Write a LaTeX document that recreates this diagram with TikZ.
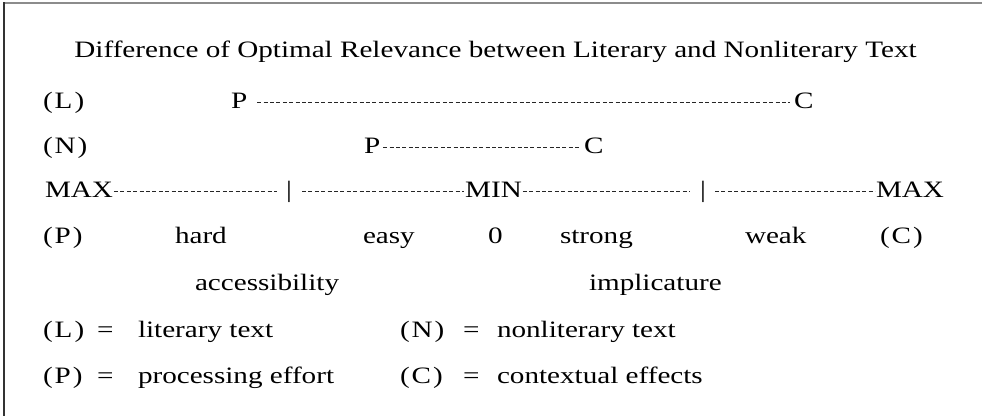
\documentclass[tikz,border=0pt]{standalone}
\usepackage{fontspec}
\setmainfont[FakeStretch=1.24]{Liberation Serif}
\begin{document}
\begin{tikzpicture}[x=1pt,y=1pt,
  txt/.style={anchor=base west,inner sep=0pt,outer sep=0pt,font=\fontsize{23.5}{27}\selectfont},
  dline/.style={line width=0.8pt,dash pattern=on 4pt off 2.4pt,black!85},
  lbl/.style={txt}]
\useasboundingbox (0,0) rectangle (982,416);
\fill[white] (0,0) rectangle (982,416);
% frame
\draw[line width=1.6pt,black!45] (3,413) -- (982,413);
\draw[line width=1.4pt,black!80] (3.8,413.5) -- (3.8,0);
% title
\node[txt,anchor=base] (title) at (495.5,358) {Difference of Optimal Relevance between Literary and Nonliterary Text};
% (L) row
\node[lbl] (Ll) at (43,308) {(\kern2pt L\kern2pt)};
\node[txt] (LP) at (231,308) {P};
\node[txt] (LC) at (794,308) {C};
\draw[dline] ([xshift=10pt,yshift=6pt]LP.base east) -- ([xshift=-4pt,yshift=6pt]LC.base west);
% (N) row
\node[lbl] (Nl) at (43,263) {(\kern2pt N\kern2pt)};
\node[txt] (NP) at (364,263) {P};
\node[txt] (NC) at (584,263) {C};
\draw[dline] ([xshift=3pt,yshift=6pt]NP.base east) -- ([xshift=-3pt,yshift=6pt]NC.base west);
% scale row
\node[txt] (max1) at (45,219) {MAX};
\node[txt,anchor=base] (bar1) at (289,219) {|};
\node[txt,anchor=base] (min) at (493.5,219) {MIN};
\node[txt,anchor=base] (bar2) at (703,219) {|};
\node[txt,anchor=base east] (max2) at (944,219) {MAX};
\draw[dline] ([xshift=1pt,yshift=6pt]max1.base east) -- ([xshift=-12pt,yshift=6pt]bar1.base);
\draw[dline] ([xshift=13pt,yshift=6pt]bar1.base) -- ([xshift=-1pt,yshift=6pt]min.base west);
\draw[dline] ([xshift=1pt,yshift=6pt]min.base east) -- ([xshift=-13pt,yshift=6pt]bar2.base);
\draw[dline] ([xshift=12pt,yshift=6pt]bar2.base) -- ([xshift=-1pt,yshift=6pt]max2.base west);
% (P) row
\node[lbl] (Pl) at (43,173) {(\kern2pt P\kern2pt)};
\node[txt] (hard) at (175,173) {hard};
\node[txt] (easy) at (363,173) {easy};
\node[txt] (zero) at (488,173) {0};
\node[txt] (strong) at (560,173) {strong};
\node[txt] (weak) at (745,173) {weak};
\node[lbl] (Cl) at (880,173) {(\kern2pt C\kern2pt)};
% axis names
\node[txt] (acc) at (195,126) {accessibility};
\node[txt] (imp) at (589,126) {implicature};
% legend
\node[lbl] (kL) at (43,79) {(\kern2pt L\kern2pt)};
\node[txt] (eL) at (97,79) {=};
\node[txt] (vL) at (138,79) {literary text};
\node[lbl] (kN) at (400,79) {(\kern2pt N\kern2pt)};
\node[txt] (eN) at (463,79) {=};
\node[txt] (vN) at (497,79) {nonliterary text};
\node[lbl] (kP) at (43,33) {(\kern2pt P\kern2pt)};
\node[txt] (eP) at (97,33) {=};
\node[txt] (vP) at (138,33) {processing effort};
\node[lbl] (kC) at (400,33) {(\kern2pt C\kern2pt)};
\node[txt] (eC) at (463,33) {=};
\node[txt] (vC) at (497,33) {contextual effects};
\end{tikzpicture}
\end{document}
